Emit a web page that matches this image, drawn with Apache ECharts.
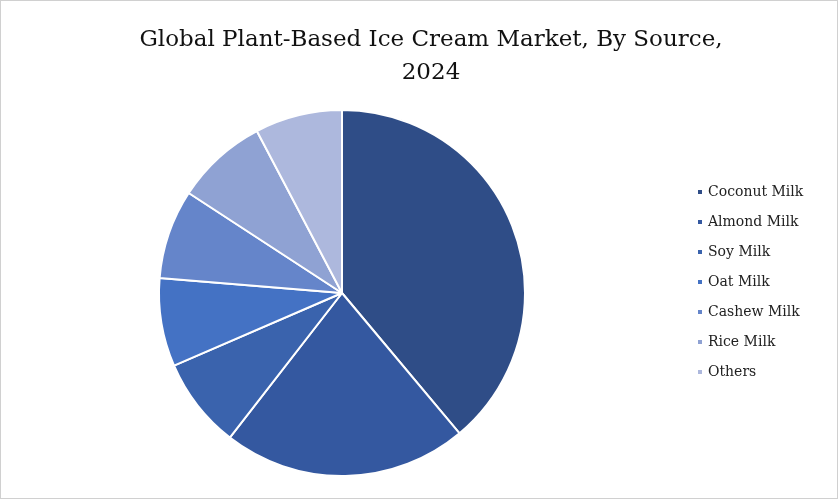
<!DOCTYPE html><html><head><meta charset="utf-8">
<script src="https://cdn.jsdelivr.net/npm/echarts@6/dist/echarts.min.js"></script>
<style>html,body{margin:0;padding:0;background:#fff}#c{width:836px;height:497px;border:1px solid #d0d0d0}</style>
</head><body><div id="c"></div><script>
const categories=["Coconut Milk","Almond Milk","Soy Milk","Oat Milk","Cashew Milk","Rice Milk","Others"];
const values=[38.9,21.6,8.0,7.8,7.9,8.1,7.7];
const colors=["#2f4d87","#3458a0","#3a63ad","#4472c4","#6585ca","#8fa2d3","#adb8dd"];
const ch=echarts.init(document.getElementById('c'));
ch.setOption({
 animation:false,
 title:{text:"Global Plant-Based Ice Cream Market, By Source,\n2024",left:425,top:18,textAlign:'center',
  textStyle:{fontFamily:"DejaVu Serif",fontWeight:'normal',fontSize:23,color:'#111',lineHeight:33}},
 legend:{orient:'vertical',left:690,top:179,itemWidth:6,itemHeight:6,itemGap:16,icon:'rect',
  textStyle:{fontFamily:"DejaVu Serif",fontSize:14,color:'#222'},data:categories},
 series:[{type:'pie',center:[341,292],radius:[0,183],startAngle:90,clockwise:true,
  label:{show:false},labelLine:{show:false},
  itemStyle:{borderColor:'#fff',borderWidth:2},
  data:categories.map((n,i)=>({name:n,value:values[i],itemStyle:{color:colors[i]}}))}]
});
</script></body></html>
